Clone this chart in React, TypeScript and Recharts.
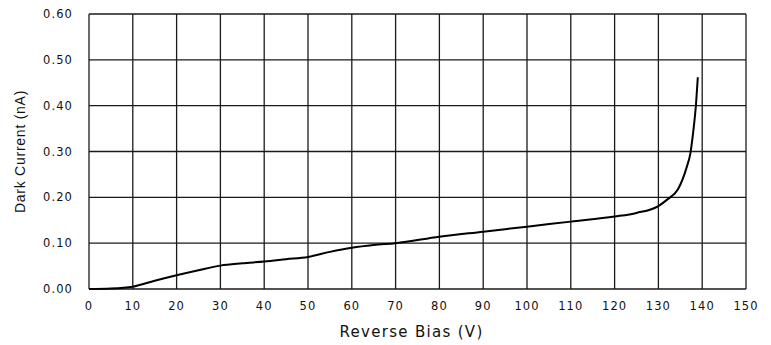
import React from "react";
import { LineChart, Line, XAxis, YAxis, CartesianGrid } from "recharts";

const voltage = [0, 5, 10, 15, 20, 25, 30, 35, 40, 45, 50, 55, 60, 65, 70, 80, 90, 100, 110, 120, 125, 130, 132, 134.5, 136.5, 137.3, 138, 138.6, 139];
const current = [0, 0.001, 0.005, 0.018, 0.03, 0.041, 0.051, 0.056, 0.06, 0.065, 0.07, 0.081, 0.09, 0.096, 0.1, 0.114, 0.125, 0.136, 0.147, 0.158, 0.166, 0.181, 0.195, 0.218, 0.267, 0.296, 0.347, 0.405, 0.462];
const xTicks = [0, 10, 20, 30, 40, 50, 60, 70, 80, 90, 100, 110, 120, 130, 140, 150];
const yTicks = [0, 0.1, 0.2, 0.3, 0.4, 0.5, 0.6];

const data = voltage.map((v, i) => ({ v, c: current[i] }));

const tickStyle = { fontFamily: "DejaVu Sans", fontSize: 11.5, fill: "#111", letterSpacing: 1.1 };

export default function App() {
  return (
    <div style={{ position: "absolute", left: 0, top: 0, background: "#fff" }}>
      <LineChart width={771} height={345} data={data} margin={{ top: 14, right: 25, bottom: 0, left: 0 }}>
        <CartesianGrid stroke="#1a1a1a" strokeWidth={1.3} />
        <XAxis
          dataKey="v"
          type="number"
          domain={[0, 150]}
          ticks={xTicks}
          axisLine={false}
          tickLine={false}
          tickMargin={7}
          height={56}
          tick={tickStyle}
          interval={0}
          label={{
            value: "Reverse Bias (V)",
            position: "insideBottom",
            offset: 8,
            dx: -6,
            style: { fontFamily: "DejaVu Sans", fontSize: 15, fill: "#111", letterSpacing: 1.3 },
          }}
        />
        <YAxis
          type="number"
          domain={[0, 0.6]}
          ticks={yTicks}
          axisLine={false}
          tickLine={false}
          tickMargin={10}
          width={89}
          tick={tickStyle}
          interval={0}
          tickFormatter={(t: number) => t.toFixed(2)}
          label={{
            value: "Dark Current (nA)",
            angle: -90,
            position: "insideLeft",
            offset: 20,
            style: { textAnchor: "middle", fontFamily: "Liberation Sans", fontSize: 14, fill: "#111", letterSpacing: 0.75 },
          }}
        />
        <Line
          dataKey="c"
          type="monotone"
          stroke="#000"
          strokeWidth={2}
          dot={false}
          isAnimationActive={false}
        />
      </LineChart>
    </div>
  );
}
